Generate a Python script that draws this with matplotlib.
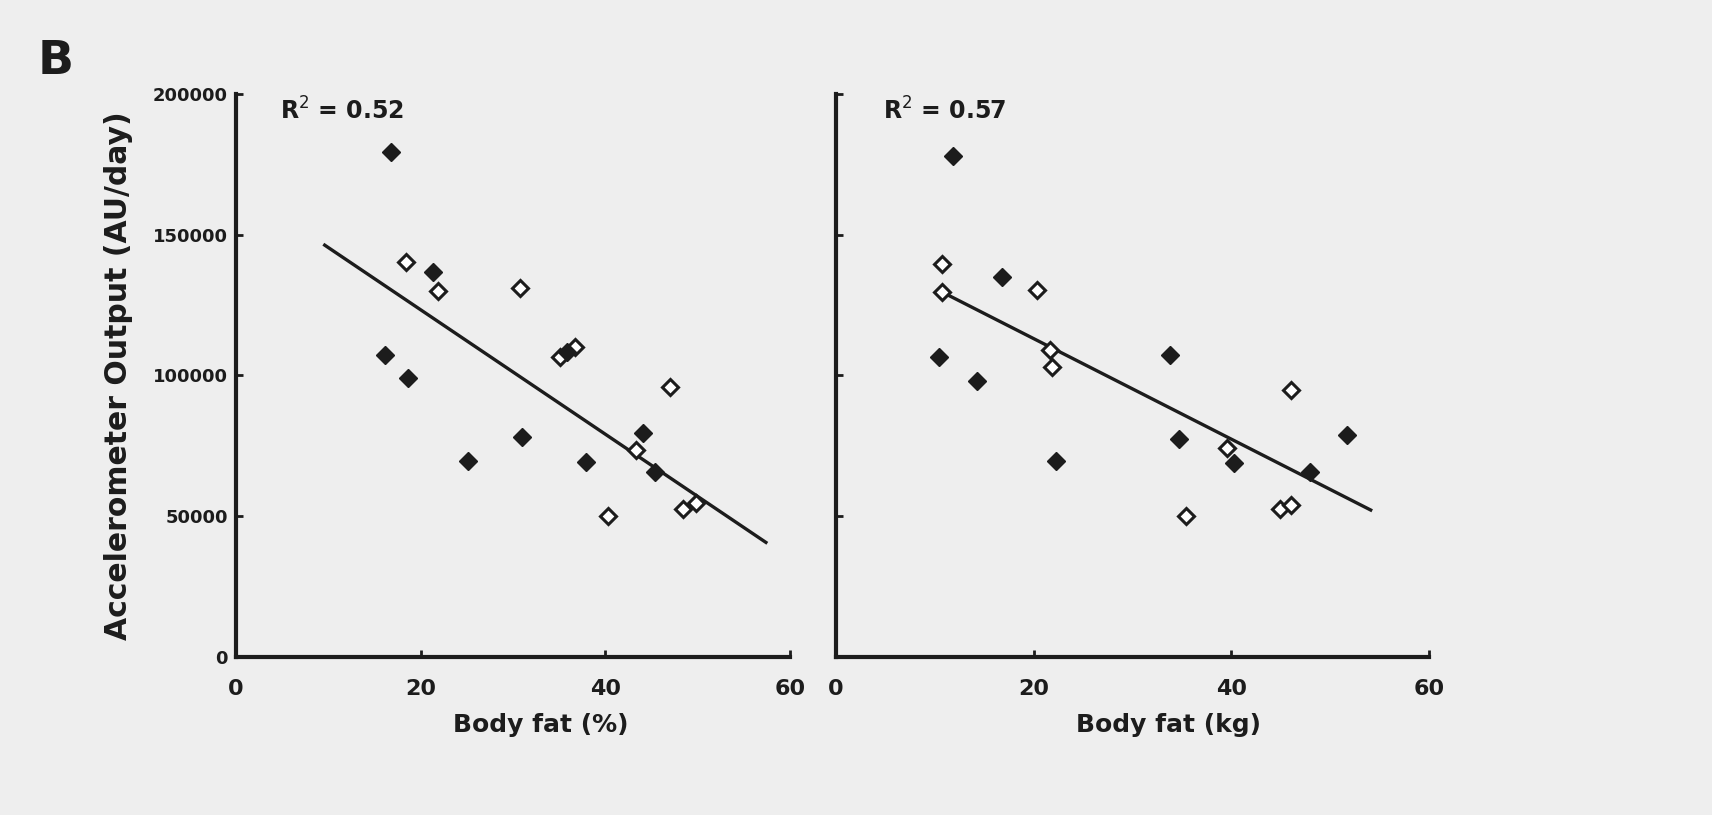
import matplotlib.pyplot as plt
import numpy as np

### data
# left panel: body fat (%) vs accelerometer output
pct_filled_x = [16.8, 21.3, 16.1, 18.6, 35.8, 31.0, 25.1, 37.9, 44.1, 45.4]
pct_filled_y = [179400, 136800, 107200, 99200, 108500, 78200, 69700, 69300, 79400, 65800]
pct_open_x = [18.4, 21.9, 30.8, 35.1, 36.7, 40.3, 47.0, 43.3, 48.4, 49.8]
pct_open_y = [140300, 130000, 131100, 106400, 110200, 50000, 95800, 73500, 52700, 54800]
pct_fit_x = [9.6, 57.4]
pct_fit_y = [146300, 40700]

# right panel: body fat (kg) vs accelerometer output
kg_filled_x = [11.8, 16.8, 10.4, 14.3, 22.3, 33.8, 34.7, 40.3, 48.0, 51.7]
kg_filled_y = [177900, 135000, 106400, 98100, 69700, 107200, 77300, 68800, 65800, 78700]
kg_open_x = [10.7, 10.7, 20.3, 21.7, 21.9, 35.4, 39.6, 46.0, 44.9, 46.0]
kg_open_y = [139500, 129700, 130300, 109200, 103100, 50100, 74100, 95000, 52400, 54000]
kg_fit_x = [10.7, 54.1]
kg_fit_y = [129700, 52200]

x_ticks = [0, 20, 40, 60]
y_ticks = [0, 50000, 100000, 150000, 200000]

bg = "#eeeeee"
ink = "#1c1c1c"
plt.rcParams['font.family'] = ['DejaVu Sans']

fig = plt.figure(figsize=(17.12, 8.15), dpi=100, facecolor=bg)

ax1 = fig.add_axes([0.1379, 0.1939, 0.3235, 0.6908])
ax2 = fig.add_axes([0.4883, 0.1939, 0.3464, 0.6908])

panels = [
   (ax1, pct_filled_x, pct_filled_y, pct_open_x, pct_open_y, pct_fit_x, pct_fit_y, "Body fat (%)", "R$^2$ = 0.52", 0.55),
   (ax2, kg_filled_x, kg_filled_y, kg_open_x, kg_open_y, kg_fit_x, kg_fit_y, "Body fat (kg)", "R$^2$ = 0.57", 0.56),
]

for ax, fx, fy, ox, oy, lx, ly, xlab, r2, lab_pos in panels:
   ax.set_facecolor(bg)
   ax.plot(lx, ly, color=ink, lw=2.4, zorder=2)
   ax.plot(ox, oy, linestyle='none', marker='D', ms=8.5, mfc='white', mec=ink, mew=2.2, zorder=3)
   ax.plot(fx, fy, linestyle='none', marker='D', ms=9.5, mfc=ink, mec=ink, zorder=4)

   ax.set_xlim(0, 60)
   ax.set_ylim(0, 200000)
   ax.set_xticks(x_ticks)
   ax.set_yticks(y_ticks)
   for s in ['top', 'right']:
      ax.spines[s].set_visible(False)
   for s in ['left', 'bottom']:
      ax.spines[s].set_linewidth(3)
      ax.spines[s].set_color(ink)
   ax.tick_params(direction='in', length=5, width=2, color=ink)
   ax.tick_params(axis='x', labelsize=16, pad=16, labelcolor=ink)
   ax.set_xticklabels([str(t) for t in x_ticks], fontweight='bold')
   ax.set_xlabel(xlab, fontsize=18, fontweight='bold', color=ink, labelpad=8)
   ax.xaxis.set_label_coords(lab_pos, -0.1)
   ax.text(0.08, 0.97, r2, transform=ax.transAxes, fontsize=17, fontweight='bold',
           color=ink, ha='left', va='center')

ax1.tick_params(axis='y', labelsize=13, pad=6, labelcolor=ink)
ax1.set_yticklabels([str(t) for t in y_ticks], fontweight='bold')
ax1.set_ylabel("Accelerometer Output (AU/day)", fontsize=21.5, fontweight='bold',
               color=ink, labelpad=14)
ax2.tick_params(axis='y', labelleft=False)

fig.text(0.022, 0.925, "B", fontsize=34, fontweight='bold', color=ink, ha='left', va='center')

fig.savefig("out.png", dpi=100, facecolor=bg)
